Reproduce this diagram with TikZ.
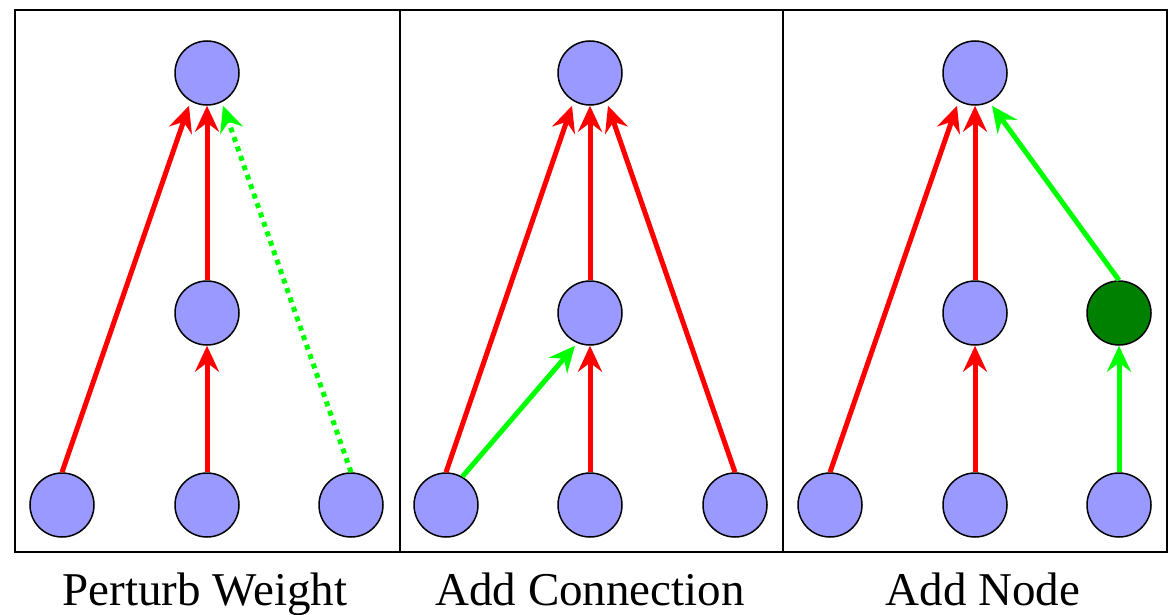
\documentclass[tikz,border=0pt]{standalone}
\usepackage{fontspec}
\setmainfont{Liberation Serif}
\usetikzlibrary{arrows.meta,calc}
\definecolor{nodeblue}{RGB}{153,153,255}
\definecolor{brightgreen}{RGB}{0,255,0}
\definecolor{darkgr}{RGB}{0,128,0}
\definecolor{redc}{RGB}{255,0,0}
\tikzset{
  nn/.style={circle,draw=black,line width=1.5pt,fill=nodeblue,minimum size=64pt,inner sep=0pt},
  gn/.style={nn,fill=darkgr},
  conn/.style={line width=5pt,-{Stealth[length=26pt,width=24pt,inset=9pt]},shorten >=0pt},
  redl/.style={conn,draw=redc,color=redc},
  grnl/.style={conn,draw=brightgreen,color=brightgreen},
  dotl/.style={grnl,dash pattern=on 5pt off 5pt},
  lab/.style={font=\fontsize{47}{50}\selectfont,anchor=base},
  frame/.style={line width=2pt,draw=black}
}
\begin{document}
\begin{tikzpicture}[x=1pt,y=-1pt]
\useasboundingbox (0,0) rectangle (1174,615);
\draw[frame] (15,10) rectangle (1167,552);
\draw[frame] (400,10) -- (400,552);
\draw[frame] (783,10) -- (783,552);
% panel 1
\node[nn] (a1) at (207,73) {};
\node[nn] (a2) at (207,313) {};
\node[nn] (a3) at (62,505) {};
\node[nn] (a4) at (207,505) {};
\node[nn] (a5) at (351,505) {};
\draw[redl] (a3.north) -- ($(a1.south)+(-18,0)$);
\draw[redl] (a2.north) -- (a1.south);
\draw[redl] (a4.north) -- (a2.south);
\draw[dotl] (a5.north) -- ($(a1.south)+(16,0)$);
% panel 2
\node[nn] (b1) at (590,73) {};
\node[nn] (b2) at (590,313) {};
\node[nn] (b3) at (446,505) {};
\node[nn] (b4) at (590,505) {};
\node[nn] (b5) at (735,505) {};
\draw[redl] (b3.north) -- ($(b1.south)+(-18,0)$);
\draw[redl] (b2.north) -- (b1.south);
\draw[redl] (b5.north) -- ($(b1.south)+(18,0)$);
\draw[redl] (b4.north) -- (b2.south);
\draw[grnl] (b3.60) -- ($(b2.south)+(-15,0)$);
% panel 3
\node[nn] (c1) at (975,73) {};
\node[nn] (c2) at (975,313) {};
\node[gn] (c6) at (1119,313) {};
\node[nn] (c3) at (830,505) {};
\node[nn] (c4) at (975,505) {};
\node[nn] (c5) at (1119,505) {};
\draw[redl] (c3.north) -- ($(c1.south)+(-18,0)$);
\draw[redl] (c2.north) -- (c1.south);
\draw[redl] (c4.north) -- (c2.south);
\draw[grnl] (c6.north) -- ($(c1.south)+(17,0)$);
\draw[grnl] (c5.north) -- (c6.south);
% labels
\node[lab] (l1) at (205,605) {Perturb Weight};
\node[lab] (l2) at (590,605) {Add Connection};
\node[lab] (l3) at (983,605) {Add Node};
\end{tikzpicture}
\end{document}
